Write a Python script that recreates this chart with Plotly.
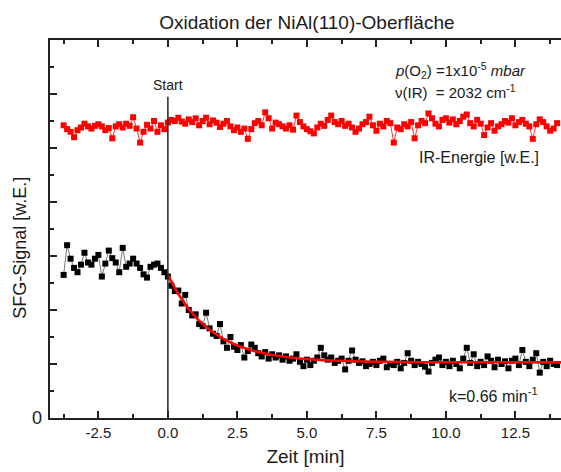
import numpy as np
import plotly.graph_objects as go

# Sampling clock of the measurement (minutes, start of O2 dosing at t = 0)
t_first = -3.75
t_step = 0.125

# IR pulse energy (arbitrary units), one value per sample
ir_energy = [
    5.42, 5.35, 5.30, 5.20, 5.33, 5.38, 5.45, 5.40, 5.36, 5.41,
    5.44, 5.40, 5.33, 5.37, 5.18, 5.40, 5.44, 5.38, 5.45, 5.41,
    5.57, 5.36, 5.10, 5.30, 5.43, 5.36, 5.50, 5.30, 5.42, 5.35,
    5.47, 5.52, 5.50, 5.56, 5.49, 5.45, 5.53, 5.48, 5.55, 5.42,
    5.50, 5.56, 5.44, 5.51, 5.47, 5.39, 5.45, 5.50, 5.40, 5.33,
    5.38, 5.30, 5.36, 5.17, 5.35, 5.46, 5.50, 5.42, 5.66, 5.55,
    5.36, 5.47, 5.44, 5.40, 5.36, 5.42, 5.34, 5.60, 5.48, 5.40,
    5.35, 5.31, 5.27, 5.38, 5.45, 5.41, 5.52, 5.60, 5.48, 5.44,
    5.50, 5.41, 5.45, 5.38, 5.30, 5.36, 5.44, 5.48, 5.58, 5.42,
    5.32, 5.45, 5.40, 5.50, 5.46, 5.10, 5.38, 5.35, 5.44, 5.40,
    5.48, 5.18, 5.42, 5.50, 5.46, 5.64, 5.55, 5.45, 5.40, 5.52,
    5.55, 5.47, 5.53, 5.44, 5.50, 5.58, 5.62, 5.46, 5.40, 5.52,
    5.45, 5.24, 5.38, 5.46, 5.32, 5.40, 5.44, 5.50, 5.47, 5.55,
    5.42, 5.48, 5.52, 5.45, 5.40, 5.17, 5.44, 5.53, 5.48, 5.40,
    5.32, 5.36, 5.46,
]

# SFG signal (arbitrary units): before dosing, then during oxidation
sfg_before = [
    2.65, 3.20, 2.95, 2.78, 2.70, 2.84, 3.06, 2.88, 2.84, 2.95,
    3.02, 2.62, 2.86, 3.10, 2.96, 2.88, 2.70, 3.15, 2.80, 2.86,
    2.95, 2.86, 2.78, 2.66, 2.60, 2.80, 2.84, 2.86, 2.78, 2.70,
]
sfg_after = [
    2.62, 2.45, 2.35, 2.36, 2.12, 2.28, 2.00, 1.90, 1.92, 1.74,
    1.70, 1.95, 1.66, 1.56, 1.52, 1.74, 1.42, 1.30, 1.50, 1.32,
    1.26, 1.35, 1.12, 1.24, 1.36, 1.30, 1.20, 1.14, 1.22, 1.10,
    1.18, 1.12, 1.16, 1.08, 1.14, 1.06, 1.10, 1.18, 1.04, 0.96,
    1.08, 0.98, 1.06, 1.12, 1.30, 1.16, 1.08, 1.12, 1.02, 1.06,
    1.10, 0.90, 1.06, 1.25, 1.08, 1.02, 1.05, 0.96, 1.00, 1.04,
    0.98, 1.06, 1.10, 0.94, 1.00, 0.98, 1.04, 0.92, 1.02, 1.20,
    1.06, 0.98, 1.04, 1.00, 0.95, 0.86, 1.02, 1.08, 1.12, 0.98,
    1.04, 0.96, 1.06, 1.00, 0.92, 1.10, 1.30, 1.02, 1.18, 0.96,
    1.04, 0.98, 1.14, 1.06, 0.94, 1.08, 1.00, 1.05, 0.92, 1.06,
    1.10, 0.98, 1.26, 1.04, 0.96, 1.08, 1.20, 0.84, 1.04, 0.96,
    1.06, 1.00, 0.98,
]

# Exponential decay fit: offset + amplitude * exp(-k t)
fit_offset = 1.03
fit_amplitude = 1.62
fit_rate = 0.66  # min^-1

x_tick_vals = [-2.5, 0.0, 2.5, 5.0, 7.5, 10.0, 12.5]
x_tick_text = ["-2.5", "0.0", "2.5", "5.0", "7.5", "10.0", "12.5"]
x_minor_vals = [-3.75, -1.25, 1.25, 3.75, 6.25, 8.75, 11.25, 13.75]
y_major_vals = [0, 1, 2, 3, 4, 5, 6, 7]
y_minor_vals = [0.5, 1.5, 2.5, 3.5, 4.5, 5.5, 6.5]

sfg_signal = sfg_before + sfg_after
times = t_first + t_step * np.arange(len(sfg_signal))
fit_t = np.linspace(0.0, 14.2, 300)
fit_y = fit_offset + fit_amplitude * np.exp(-fit_rate * fit_t)

FONT = "Liberation Sans, Arial, Helvetica, sans-serif"
INK = "#1a1a1a"
AXIS = "#222222"

fig = go.Figure()
fig.add_trace(go.Scatter(
    x=times, y=ir_energy, mode="lines+markers",
    line=dict(color="#ff0000", width=0.8),
    marker=dict(symbol="square", size=6, color="#ff0000"),
    showlegend=False,
))
fig.add_trace(go.Scatter(
    x=times, y=sfg_signal, mode="lines+markers",
    line=dict(color="#555555", width=0.8),
    marker=dict(symbol="square", size=6, color="#000000"),
    showlegend=False,
))
fig.add_trace(go.Scatter(
    x=fit_t, y=fit_y, mode="lines",
    line=dict(color="#ff0000", width=2.6),
    showlegend=False,
))

# Start marker for the O2 dosing
fig.add_shape(type="line", xref="x", yref="y", x0=0, x1=0, y0=0, y1=5.95,
              line=dict(color=AXIS, width=1.5))

top_font = dict(family=FONT, size=15, color=INK)
big_font = dict(family=FONT, size=16, color=INK)
fig.add_annotation(x=0, y=6.17, text="Start", showarrow=False,
                   font=dict(family=FONT, size=14, color=INK))
fig.add_annotation(x=8.1, y=6.44, xanchor="left",
                   text="<i>p</i>(O<sub>2</sub>) =1x10<sup>-5</sup> <i>mbar</i>",
                   showarrow=False, font=top_font)
fig.add_annotation(x=8.1, y=6.04, xanchor="left",
                   text="\u03bd(IR)  = 2032 cm<sup>-1</sup>",
                   showarrow=False, font=top_font)
fig.add_annotation(x=8.95, y=4.83, xanchor="left", text="IR-Energie [w.E.]",
                   showarrow=False, font=big_font)
fig.add_annotation(x=10.05, y=0.43, xanchor="left", text="k=0.66 min<sup>-1</sup>",
                   showarrow=False, font=big_font)

# y-axis: only the zero is labelled
fig.add_annotation(xref="paper", yref="y", x=-0.012, y=0, xanchor="right",
                   text="0", showarrow=False,
                   font=dict(family=FONT, size=18, color=INK))
fig.add_annotation(xref="paper", yref="paper", x=-0.059, y=0.45,
                   xanchor="center", yanchor="middle", textangle=-90,
                   text="SFG-Signal [w.E.]", showarrow=False,
                   font=dict(family=FONT, size=18, color=INK))

fig.update_layout(
    width=561, height=472,
    margin=dict(l=50, r=0, t=40, b=54),
    paper_bgcolor="white", plot_bgcolor="white",
    font=dict(family=FONT, color=INK),
    title=dict(text="Oxidation der NiAl(110)-Oberfläche", x=0.547, xanchor="center",
               y=0.952, yanchor="middle", font=dict(family=FONT, size=19, color=INK)),
)
fig.update_xaxes(
    range=[-4.24, 14.14], showgrid=False, zeroline=False,
    showline=True, linecolor=AXIS, linewidth=2, mirror="ticks",
    tickmode="array", tickvals=x_tick_vals, ticktext=x_tick_text,
    ticks="inside", ticklen=7, tickwidth=1.5, tickcolor=AXIS,
    tickfont=dict(family=FONT, size=15, color=INK),
    minor=dict(tickmode="array", tickvals=x_minor_vals, ticks="inside",
               ticklen=4, tickwidth=1.5, tickcolor=AXIS),
    title=dict(text="Zeit [min]", font=dict(family=FONT, size=19, color=INK), standoff=10),
)
fig.update_yaxes(
    range=[0, 7], showgrid=False, zeroline=False,
    showline=True, linecolor=AXIS, linewidth=2,
    tickmode="array", tickvals=y_major_vals, showticklabels=False,
    ticks="inside", ticklen=7, tickwidth=1.5, tickcolor=AXIS,
    minor=dict(tickmode="array", tickvals=y_minor_vals,
               ticks="inside", ticklen=4, tickwidth=1.5, tickcolor=AXIS),
)

fig.write_html("out.html")
